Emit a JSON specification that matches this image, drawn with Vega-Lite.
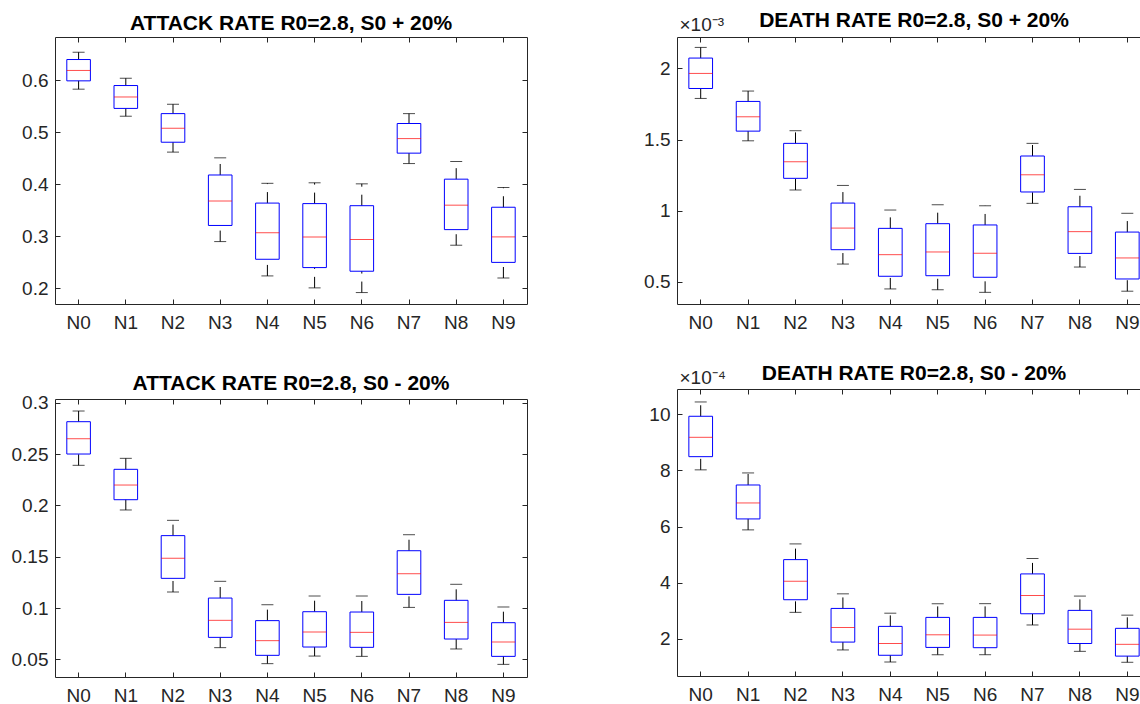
{
  "$schema": "https://vega.github.io/schema/vega-lite/v6.json",
  "background": "white",
  "padding": {"left": 11, "top": 9, "right": 0, "bottom": 0},
  "spacing": 115,
  "datasets": {
    "p1": [
      {"cat": "N0", "lo": 0.583, "q1": 0.599, "med": 0.619, "q3": 0.640, "hi": 0.654},
      {"cat": "N1", "lo": 0.531, "q1": 0.546, "med": 0.568, "q3": 0.590, "hi": 0.604},
      {"cat": "N2", "lo": 0.462, "q1": 0.481, "med": 0.508, "q3": 0.536, "hi": 0.554},
      {"cat": "N3", "lo": 0.290, "q1": 0.321, "med": 0.368, "q3": 0.418, "hi": 0.451},
      {"cat": "N4", "lo": 0.224, "q1": 0.256, "med": 0.307, "q3": 0.364, "hi": 0.402},
      {"cat": "N5", "lo": 0.201, "q1": 0.240, "med": 0.299, "q3": 0.363, "hi": 0.403},
      {"cat": "N6", "lo": 0.192, "q1": 0.233, "med": 0.294, "q3": 0.359, "hi": 0.401},
      {"cat": "N7", "lo": 0.440, "q1": 0.460, "med": 0.488, "q3": 0.517, "hi": 0.536},
      {"cat": "N8", "lo": 0.283, "q1": 0.313, "med": 0.360, "q3": 0.410, "hi": 0.444},
      {"cat": "N9", "lo": 0.220, "q1": 0.250, "med": 0.299, "q3": 0.356, "hi": 0.394}
    ],
    "p2": [
      {"cat": "N0", "lo": 0.001789, "q1": 0.001859, "med": 0.001965, "q3": 0.002073, "hi": 0.002148},
      {"cat": "N1", "lo": 0.001491, "q1": 0.001559, "med": 0.001660, "q3": 0.001768, "hi": 0.001841},
      {"cat": "N2", "lo": 0.001145, "q1": 0.001227, "med": 0.001344, "q3": 0.001473, "hi": 0.001562},
      {"cat": "N3", "lo": 0.000624, "q1": 0.000725, "med": 0.000877, "q3": 0.001053, "hi": 0.001177},
      {"cat": "N4", "lo": 0.000449, "q1": 0.000538, "med": 0.000690, "q3": 0.000875, "hi": 0.001004},
      {"cat": "N5", "lo": 0.000443, "q1": 0.000542, "med": 0.000709, "q3": 0.000908, "hi": 0.001041},
      {"cat": "N6", "lo": 0.000425, "q1": 0.000531, "med": 0.000700, "q3": 0.000899, "hi": 0.001034},
      {"cat": "N7", "lo": 0.001051, "q1": 0.001131, "med": 0.001252, "q3": 0.001384, "hi": 0.001473},
      {"cat": "N8", "lo": 0.000603, "q1": 0.000699, "med": 0.000852, "q3": 0.001027, "hi": 0.001149},
      {"cat": "N9", "lo": 0.000433, "q1": 0.000519, "med": 0.000667, "q3": 0.000849, "hi": 0.000981}
    ],
    "p3": [
      {"cat": "N0", "lo": 0.2390, "q1": 0.2500, "med": 0.2649, "q3": 0.2815, "hi": 0.2919},
      {"cat": "N1", "lo": 0.1955, "q1": 0.2055, "med": 0.2198, "q3": 0.2351, "hi": 0.2458},
      {"cat": "N2", "lo": 0.1156, "q1": 0.1289, "med": 0.1484, "q3": 0.1705, "hi": 0.1854},
      {"cat": "N3", "lo": 0.0614, "q1": 0.0714, "med": 0.0880, "q3": 0.1097, "hi": 0.1260},
      {"cat": "N4", "lo": 0.0458, "q1": 0.0539, "med": 0.0682, "q3": 0.0877, "hi": 0.1032},
      {"cat": "N5", "lo": 0.0532, "q1": 0.0620, "med": 0.0766, "q3": 0.0964, "hi": 0.1117},
      {"cat": "N6", "lo": 0.0529, "q1": 0.0617, "med": 0.0763, "q3": 0.0961, "hi": 0.1117},
      {"cat": "N7", "lo": 0.1006, "q1": 0.1133, "med": 0.1334, "q3": 0.1558, "hi": 0.1714},
      {"cat": "N8", "lo": 0.0601, "q1": 0.0698, "med": 0.0860, "q3": 0.1075, "hi": 0.1231},
      {"cat": "N9", "lo": 0.0451, "q1": 0.0529, "med": 0.0669, "q3": 0.0857, "hi": 0.1010}
    ],
    "p4": [
      {"cat": "N0", "lo": 0.000802, "q1": 0.000849, "med": 0.000918, "q3": 0.000993, "hi": 0.001044},
      {"cat": "N1", "lo": 0.000588, "q1": 0.000627, "med": 0.000684, "q3": 0.000748, "hi": 0.000791},
      {"cat": "N2", "lo": 0.000294, "q1": 0.000339, "med": 0.000405, "q3": 0.000482, "hi": 0.000538},
      {"cat": "N3", "lo": 0.000160, "q1": 0.000188, "med": 0.000240, "q3": 0.000308, "hi": 0.000360},
      {"cat": "N4", "lo": 0.000117, "q1": 0.000141, "med": 0.000183, "q3": 0.000244, "hi": 0.000291},
      {"cat": "N5", "lo": 0.000143, "q1": 0.000169, "med": 0.000214, "q3": 0.000276, "hi": 0.000325},
      {"cat": "N6", "lo": 0.000143, "q1": 0.000168, "med": 0.000213, "q3": 0.000276, "hi": 0.000325},
      {"cat": "N7", "lo": 0.000249, "q1": 0.000289, "med": 0.000354, "q3": 0.000431, "hi": 0.000486},
      {"cat": "N8", "lo": 0.000155, "q1": 0.000183, "med": 0.000234, "q3": 0.000301, "hi": 0.000352},
      {"cat": "N9", "lo": 0.000116, "q1": 0.000138, "med": 0.000180, "q3": 0.000237, "hi": 0.000284}
    ]
  },
  "hconcat": [
    {
      "spacing": 40,
      "vconcat": [
        {
          "width": 472, "height": 267,
          "title": {"text": "ATTACK RATE R0=2.8, S0 + 20%", "offset": 2.5},
          "data": {"name": "p1"},
          "layer": [
            {"mark": {"type": "rule", "color": "#000000", "strokeWidth": 1, "strokeDash": [11, 8]},
             "encoding": {
               "x": {"field": "cat", "type": "nominal", "scale": {"paddingInner": 0, "paddingOuter": 0}, "axis": {"orient": "bottom"}},
               "y": {"field": "lo", "type": "quantitative", "scale": {"domain": [0.17, 0.6833], "zero": false, "nice": false}, "axis": {"orient": "left", "values": [0.2, 0.3, 0.4, 0.5, 0.6], "format": ".1f"}},
               "y2": {"field": "q1"}}},
            {"mark": {"type": "rule", "color": "#000000", "strokeWidth": 1, "strokeDash": [11, 8]},
             "encoding": {
               "x": {"field": "cat", "type": "nominal", "axis": {"orient": "top", "labels": false}},
               "y": {"field": "q3", "type": "quantitative", "axis": {"orient": "right", "labels": false, "values": [0.2, 0.3, 0.4, 0.5, 0.6]}},
               "y2": {"field": "hi"}}},
            {"mark": {"type": "tick", "color": "#000000", "size": 12, "thickness": 1},
             "encoding": {"x": {"field": "cat", "type": "nominal", "axis": null}, "y": {"field": "hi", "type": "quantitative", "axis": null}}},
            {"mark": {"type": "tick", "color": "#000000", "size": 12, "thickness": 1},
             "encoding": {"x": {"field": "cat", "type": "nominal", "axis": null}, "y": {"field": "lo", "type": "quantitative", "axis": null}}},
            {"mark": {"type": "bar", "fill": "transparent", "stroke": "#0000ff", "strokeWidth": 1, "width": {"band": 0.5}},
             "encoding": {"x": {"field": "cat", "type": "nominal", "axis": null}, "y": {"field": "q1", "type": "quantitative", "axis": null}, "y2": {"field": "q3"}}},
            {"mark": {"type": "tick", "color": "#ff0000", "size": 23.6, "thickness": 1},
             "encoding": {"x": {"field": "cat", "type": "nominal", "axis": null}, "y": {"field": "med", "type": "quantitative", "axis": null}}}
          ],
          "resolve": {"axis": {"x": "independent", "y": "independent"}}
        },
        {
          "width": 472, "height": 278,
          "title": {"text": "ATTACK RATE R0=2.8, S0 - 20%", "offset": 0},
          "data": {"name": "p3"},
          "layer": [
            {"mark": {"type": "rule", "color": "#000000", "strokeWidth": 1, "strokeDash": [11, 8]},
             "encoding": {
               "x": {"field": "cat", "type": "nominal", "scale": {"paddingInner": 0, "paddingOuter": 0}, "axis": {"orient": "bottom"}},
               "y": {"field": "lo", "type": "quantitative", "scale": {"domain": [0.0328, 0.3036], "zero": false, "nice": false}, "axis": {"orient": "left", "values": [0.05, 0.1, 0.15, 0.2, 0.25, 0.3], "format": ".2~f"}},
               "y2": {"field": "q1"}}},
            {"mark": {"type": "rule", "color": "#000000", "strokeWidth": 1, "strokeDash": [11, 8]},
             "encoding": {
               "x": {"field": "cat", "type": "nominal", "axis": {"orient": "top", "labels": false}},
               "y": {"field": "q3", "type": "quantitative", "axis": {"orient": "right", "labels": false, "values": [0.05, 0.1, 0.15, 0.2, 0.25, 0.3]}},
               "y2": {"field": "hi"}}},
            {"mark": {"type": "tick", "color": "#000000", "size": 12, "thickness": 1},
             "encoding": {"x": {"field": "cat", "type": "nominal", "axis": null}, "y": {"field": "hi", "type": "quantitative", "axis": null}}},
            {"mark": {"type": "tick", "color": "#000000", "size": 12, "thickness": 1},
             "encoding": {"x": {"field": "cat", "type": "nominal", "axis": null}, "y": {"field": "lo", "type": "quantitative", "axis": null}}},
            {"mark": {"type": "bar", "fill": "transparent", "stroke": "#0000ff", "strokeWidth": 1, "width": {"band": 0.5}},
             "encoding": {"x": {"field": "cat", "type": "nominal", "axis": null}, "y": {"field": "q1", "type": "quantitative", "axis": null}, "y2": {"field": "q3"}}},
            {"mark": {"type": "tick", "color": "#ff0000", "size": 23.6, "thickness": 1},
             "encoding": {"x": {"field": "cat", "type": "nominal", "axis": null}, "y": {"field": "med", "type": "quantitative", "axis": null}}}
          ],
          "resolve": {"axis": {"x": "independent", "y": "independent"}}
        }
      ]
    },
    {
      "spacing": 31,
      "vconcat": [
        {
          "width": 474, "height": 267,
          "title": {"text": "DEATH RATE R0=2.8, S0 + 20%", "offset": -15},
          "data": {"name": "p2"},
          "layer": [
            {"mark": {"type": "rule", "color": "#000000", "strokeWidth": 1, "strokeDash": [11, 8]},
             "encoding": {
               "x": {"field": "cat", "type": "nominal", "scale": {"paddingInner": 0, "paddingOuter": 0}, "axis": {"orient": "bottom"}},
               "y": {"field": "lo", "type": "quantitative", "scale": {"domain": [0.000343, 0.0022212], "zero": false, "nice": false},
                     "axis": {"orient": "left", "values": [0.0005, 0.001, 0.0015, 0.002], "labelExpr": "format(datum.value*1000, '.2~g')",
                              "title": "×10⁻³", "titleAngle": 0, "titleAlign": "left", "titleBaseline": "alphabetic", "titleX": 2, "titleY": -6.2}},
               "y2": {"field": "q1"}}},
            {"mark": {"type": "rule", "color": "#000000", "strokeWidth": 1, "strokeDash": [11, 8]},
             "encoding": {
               "x": {"field": "cat", "type": "nominal", "axis": {"orient": "top", "labels": false}},
               "y": {"field": "q3", "type": "quantitative", "axis": {"orient": "right", "labels": false, "values": [0.0005, 0.001, 0.0015, 0.002]}},
               "y2": {"field": "hi"}}},
            {"mark": {"type": "tick", "color": "#000000", "size": 12, "thickness": 1},
             "encoding": {"x": {"field": "cat", "type": "nominal", "axis": null}, "y": {"field": "hi", "type": "quantitative", "axis": null}}},
            {"mark": {"type": "tick", "color": "#000000", "size": 12, "thickness": 1},
             "encoding": {"x": {"field": "cat", "type": "nominal", "axis": null}, "y": {"field": "lo", "type": "quantitative", "axis": null}}},
            {"mark": {"type": "bar", "fill": "transparent", "stroke": "#0000ff", "strokeWidth": 1, "width": {"band": 0.5}},
             "encoding": {"x": {"field": "cat", "type": "nominal", "axis": null}, "y": {"field": "q1", "type": "quantitative", "axis": null}, "y2": {"field": "q3"}}},
            {"mark": {"type": "tick", "color": "#ff0000", "size": 23.6, "thickness": 1},
             "encoding": {"x": {"field": "cat", "type": "nominal", "axis": null}, "y": {"field": "med", "type": "quantitative", "axis": null}}}
          ],
          "resolve": {"axis": {"x": "independent", "y": "independent"}}
        },
        {
          "width": 474, "height": 287,
          "title": {"text": "DEATH RATE R0=2.8, S0 - 20%", "offset": -15.5},
          "data": {"name": "p4"},
          "layer": [
            {"mark": {"type": "rule", "color": "#000000", "strokeWidth": 1, "strokeDash": [11, 8]},
             "encoding": {
               "x": {"field": "cat", "type": "nominal", "scale": {"paddingInner": 0, "paddingOuter": 0}, "axis": {"orient": "bottom"}},
               "y": {"field": "lo", "type": "quantitative", "scale": {"domain": [0.0000671, 0.0010902], "zero": false, "nice": false},
                     "axis": {"orient": "left", "values": [0.0002, 0.0004, 0.0006, 0.0008, 0.001], "labelExpr": "format(datum.value*10000, '.2~g')",
                              "title": "×10⁻⁴", "titleAngle": 0, "titleAlign": "left", "titleBaseline": "alphabetic", "titleX": 2, "titleY": -5.4}},
               "y2": {"field": "q1"}}},
            {"mark": {"type": "rule", "color": "#000000", "strokeWidth": 1, "strokeDash": [11, 8]},
             "encoding": {
               "x": {"field": "cat", "type": "nominal", "axis": {"orient": "top", "labels": false}},
               "y": {"field": "q3", "type": "quantitative", "axis": {"orient": "right", "labels": false, "values": [0.0002, 0.0004, 0.0006, 0.0008, 0.001]}},
               "y2": {"field": "hi"}}},
            {"mark": {"type": "tick", "color": "#000000", "size": 12, "thickness": 1},
             "encoding": {"x": {"field": "cat", "type": "nominal", "axis": null}, "y": {"field": "hi", "type": "quantitative", "axis": null}}},
            {"mark": {"type": "tick", "color": "#000000", "size": 12, "thickness": 1},
             "encoding": {"x": {"field": "cat", "type": "nominal", "axis": null}, "y": {"field": "lo", "type": "quantitative", "axis": null}}},
            {"mark": {"type": "bar", "fill": "transparent", "stroke": "#0000ff", "strokeWidth": 1, "width": {"band": 0.5}},
             "encoding": {"x": {"field": "cat", "type": "nominal", "axis": null}, "y": {"field": "q1", "type": "quantitative", "axis": null}, "y2": {"field": "q3"}}},
            {"mark": {"type": "tick", "color": "#ff0000", "size": 23.6, "thickness": 1},
             "encoding": {"x": {"field": "cat", "type": "nominal", "axis": null}, "y": {"field": "med", "type": "quantitative", "axis": null}}}
          ],
          "resolve": {"axis": {"x": "independent", "y": "independent"}}
        }
      ]
    }
  ],
  "config": {
    "font": "Liberation Sans",
    "view": {"stroke": null},
    "axis": {
      "grid": false,
      "title": null,
      "domainColor": "#262626",
      "domainWidth": 1,
      "tickColor": "#262626",
      "tickWidth": 1,
      "tickSize": -5,
      "labelColor": "#262626",
      "labelFont": "Liberation Sans",
      "labelFontSize": 19,
      "titleFont": "Liberation Sans",
      "titleFontSize": 19,
      "titleFontWeight": "normal",
      "titleColor": "#262626"
    },
    "axisX": {"labelAngle": 0, "labelPadding": 14},
    "axisY": {"labelPadding": 12},
    "title": {"font": "Liberation Sans", "fontSize": 21, "fontWeight": "bold", "color": "#000000", "anchor": "middle", "frame": "group", "baseline": "alphabetic"}
  }
}
